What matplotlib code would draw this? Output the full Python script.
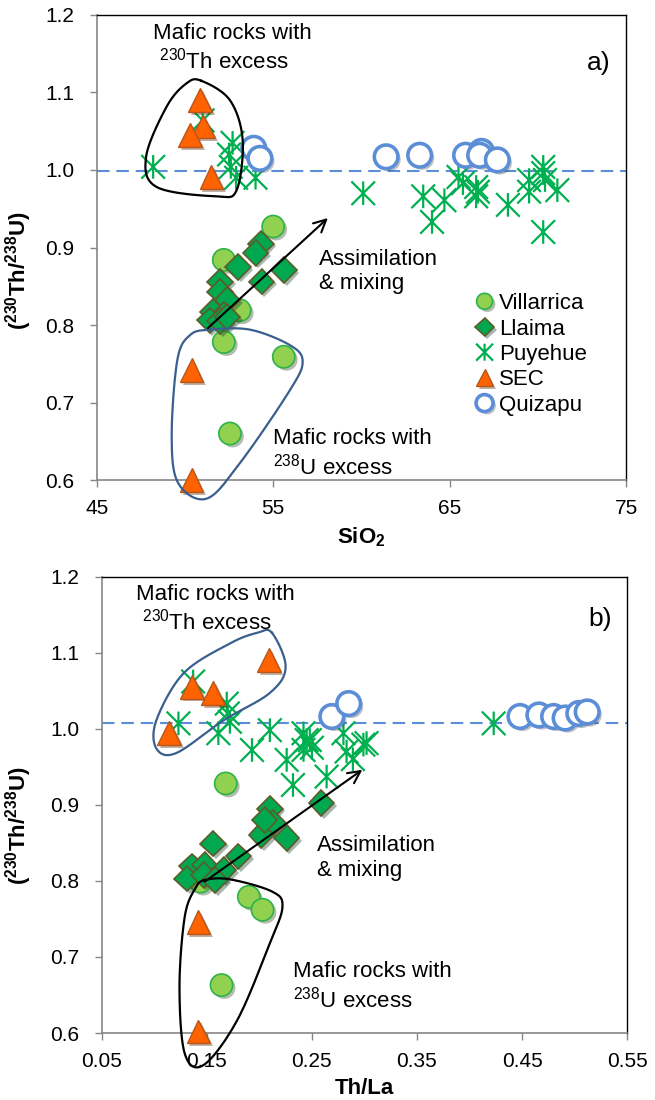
import numpy as np
import matplotlib
matplotlib.use('Agg')
import matplotlib.pyplot as plt
import matplotlib.patheffects as pe
from matplotlib.path import Path

plt.rcParams['font.family'] = ['Liberation Sans', 'DejaVu Sans']
plt.rcParams['mathtext.fontset'] = 'custom'
plt.rcParams['mathtext.rm'] = 'Liberation Sans'
plt.rcParams['mathtext.it'] = 'Liberation Sans:italic'
plt.rcParams['mathtext.bf'] = 'Liberation Sans:bold'

# ---------------------------------------------------------------- panel a data
vil_a_x = [55.0, 52.2, 53.1, 52.2, 55.6, 52.55]
vil_a_y = [0.927, 0.884, 0.819, 0.778, 0.759, 0.660]

lla_a_x = [54.3, 54.0, 53.0, 55.6, 52.0, 54.35, 52.0, 52.4, 51.6, 52.2, 51.4, 52.0, 52.4]
lla_a_y = [0.905, 0.893, 0.875, 0.871, 0.856, 0.856, 0.843, 0.832, 0.817, 0.813, 0.806, 0.805, 0.810]

puy_a_x = [48.2, 51.0, 52.7, 52.5, 52.6, 52.9, 54.0, 60.1, 63.5, 64.0, 64.7, 65.5,
           65.75, 66.5, 66.5, 66.6, 68.3, 69.5, 69.5, 70.3, 70.3, 70.4, 71.1, 70.3]
puy_a_y = [1.004, 1.064, 1.035, 1.020, 1.004, 0.990, 0.990, 0.970, 0.966, 0.933, 0.961, 0.991,
           0.983, 0.978, 0.966, 0.972, 0.955, 0.987, 0.972, 1.004, 0.996, 0.987, 0.974, 0.920]

sec_a_x = [50.85, 51.04, 50.29, 51.5, 50.38, 50.38]
sec_a_y = [1.090, 1.056, 1.045, 0.991, 0.742, 0.600]

qzp_a_x = [53.9, 54.25, 61.4, 63.3, 65.9, 66.8, 66.7, 67.7]
qzp_a_y = [1.028, 1.015, 1.017, 1.019, 1.019, 1.024, 1.019, 1.013]

# enclosures (data units)
th_a_x = [50.94, 52.55, 53.27, 52.93, 51.8, 48.4, 47.8, 48.97, 50.1]
th_a_y = [1.115, 1.090, 1.039, 0.974, 0.966, 0.978, 1.017, 1.082, 1.112]
u_a_x = [51.42, 53.69, 55.95, 56.67, 55.95, 53.12, 51.23, 49.62, 49.25, 49.57, 50.29]
u_a_y = [0.794, 0.794, 0.774, 0.753, 0.716, 0.622, 0.576, 0.596, 0.656, 0.755, 0.787]
arrow_a = [(51.3, 0.796), (58.1, 0.938)]

# ---------------------------------------------------------------- panel b data
vil_b_x = [0.168, 0.190, 0.203, 0.164, 0.144]
vil_b_y = [0.928, 0.779, 0.762, 0.663, 0.799]

lla_b_x = [0.210, 0.259, 0.213, 0.202, 0.226, 0.156, 0.180, 0.136, 0.148, 0.166,
           0.131, 0.147, 0.158, 0.205]
lla_b_y = [0.895, 0.902, 0.876, 0.860, 0.856, 0.849, 0.832, 0.819, 0.821, 0.814,
           0.803, 0.808, 0.801, 0.880]

puy_b_x = [0.137, 0.123, 0.169, 0.172, 0.161, 0.193, 0.210, 0.226, 0.232, 0.242,
           0.245, 0.242, 0.248, 0.250, 0.264, 0.280, 0.283, 0.299, 0.289, 0.302,
           0.423, 0.170]
puy_b_y = [1.062, 1.007, 1.033, 1.009, 0.994, 0.972, 0.998, 0.959, 0.926, 0.994,
           0.985, 0.972, 0.985, 0.975, 0.937, 0.994, 0.970, 0.979, 0.960, 0.981,
           1.007, 1.020]

sec_b_x = [0.209, 0.136, 0.156, 0.114, 0.142, 0.142]
sec_b_y = [1.090, 1.055, 1.047, 0.994, 0.746, 0.602]

qzp_b_x = [0.269, 0.285, 0.448, 0.466, 0.480, 0.491, 0.504, 0.512]
qzp_b_y = [1.016, 1.033, 1.016, 1.018, 1.016, 1.014, 1.020, 1.022]

th_b_x = [0.212, 0.225, 0.210, 0.166, 0.121, 0.102, 0.102, 0.128, 0.172, 0.198]
th_b_y = [1.126, 1.081, 1.047, 1.011, 0.968, 0.974, 1.011, 1.073, 1.112, 1.126]
u_b_x = [0.148, 0.172, 0.212, 0.222, 0.210, 0.179, 0.147, 0.129, 0.124, 0.129, 0.139]
u_b_y = [0.801, 0.802, 0.786, 0.766, 0.718, 0.617, 0.558, 0.573, 0.661, 0.753, 0.790]
arrow_b = [(0.148, 0.799), (0.298, 0.946)]

# ---------------------------------------------------------------- styles
GRAY = '#868686'
STAR = Path([(0, -1), (0, 1), (-1, -1), (1, 1), (-1, 1), (1, -1)],
            [Path.MOVETO, Path.LINETO] * 3)
SHADOW = [pe.SimplePatchShadow(offset=(2, -2), alpha=0.35), pe.Normal()]

SERIES = [
    ('Villarrica', dict(marker='o', ms=16, mfc='#92D050', mec='#2DB34A', mew=1.2)),
    ('Llaima', dict(marker='D', ms=13, mfc='#00A84F', mec='#5E5A2A', mew=1.2)),
    ('Puyehue', dict(marker=STAR, ms=17, mfc='none', mec='#00B050', mew=1.6)),
    ('SEC', dict(marker='^', ms=17, mfc='#FF6200', mec='#B8561A', mew=1.0)),
    ('Quizapu', dict(marker='o', ms=17, mfc='white', mec='#5B8ED6', mew=2.6)),
]


def closed_spline(xs, ys, n=25):
    pts = np.column_stack([xs, ys])
    m = len(pts)
    out = []
    for i in range(m):
        p0, p1, p2, p3 = pts[i - 1], pts[i], pts[(i + 1) % m], pts[(i + 2) % m]
        for t in np.linspace(0, 1, n, endpoint=False):
            t2, t3 = t * t, t * t * t
            out.append(0.5 * ((2 * p1) + (-p0 + p2) * t + (2 * p0 - 5 * p1 + 4 * p2 - p3) * t2
                              + (-p0 + 3 * p1 - 3 * p2 + p3) * t3))
    out.append(out[0])
    out = np.array(out)
    return out[:, 0], out[:, 1]


def draw_panel(ax, data, xlim, xticks, xfmt, xlabel, ref_y, th_shape, u_shape, arrow,
               th_col, u_col, texts, tag, tag_y, legend):
    ax.axhline(ref_y, color='#5B8ED6', lw=1.5, ls=(0, (6, 3.3)), zorder=1)

    for (name, st), (xs, ys) in zip(SERIES, data):
        ax.plot(xs, ys, ls='none', label=name, zorder=3, clip_on=False,
                path_effects=SHADOW, **st)

    for (sx, sy), col in ((th_shape, th_col), (u_shape, u_col)):
        cx, cy = closed_spline(sx, sy)
        ax.plot(cx, cy, color=col, lw=1.6, zorder=4, clip_on=False)

    ax.annotate('', xy=arrow[1], xytext=arrow[0],
                arrowprops=dict(arrowstyle='->', lw=1.5, color='black',
                                mutation_scale=22, shrinkA=0, shrinkB=0), zorder=5)

    for (tx, ty, s) in texts:
        ax.text(tx, ty, s, fontsize=16, ha='left', va='center', linespacing=1.2, zorder=6)
    ax.text(0.97, tag_y, tag, transform=ax.transAxes, fontsize=19, ha='right', va='center')

    ax.set_xlim(*xlim)
    ax.set_ylim(0.6, 1.2)
    ax.set_xticks(xticks)
    ax.set_xticklabels([xfmt.format(v) for v in xticks])
    ax.set_yticks([0.6, 0.7, 0.8, 0.9, 1.0, 1.1, 1.2])
    ax.set_yticklabels(['{:.1f}'.format(v) for v in [0.6, 0.7, 0.8, 0.9, 1.0, 1.1, 1.2]])
    ax.tick_params(axis='both', labelsize=15, color=GRAY, length=5, width=1, direction='out')
    ax.tick_params(axis='y', pad=11)
    ax.tick_params(axis='x', pad=9)
    for sp in ('left', 'bottom'):
        ax.spines[sp].set_color(GRAY)
        ax.spines[sp].set_linewidth(1.2)
    for sp in ('top', 'right'):
        ax.spines[sp].set_color('black')
        ax.spines[sp].set_linewidth(1.0)

    ax.set_xlabel(xlabel, fontsize=16, fontweight='bold', labelpad=5)
    ax.set_ylabel(r'$\mathbf{(^{230}Th/^{238}U)}$', fontsize=16)

    if legend:
        ax.legend(loc='upper left', bbox_to_anchor=(0.72, 0.402), frameon=False,
                  fontsize=16, markerscale=0.72, handlelength=0.6, handletextpad=0.35,
                  labelspacing=0.2, borderpad=0, borderaxespad=0)


fig = plt.figure(figsize=(6.55, 11), dpi=100)
ax1 = fig.add_axes([0.1476, 0.5636, 0.956 - 0.1476, 0.9864 - 0.5636])
ax2 = fig.add_axes([0.1553, 0.0609, 0.9575 - 0.1553, 0.4759 - 0.0609])

data_a = [(vil_a_x, vil_a_y), (lla_a_x, lla_a_y), (puy_a_x, puy_a_y),
          (sec_a_x, sec_a_y), (qzp_a_x, qzp_a_y)]
data_b = [(vil_b_x, vil_b_y), (lla_b_x, lla_b_y), (puy_b_x, puy_b_y),
          (sec_b_x, sec_b_y), (qzp_b_x, qzp_b_y)]

draw_panel(ax1, data_a, (45, 75), [45, 55, 65, 75], '{:g}', r'SiO$_\mathbf{2}$', 0.999,
           (th_a_x, th_a_y), (u_a_x, u_a_y), arrow_a, 'black', '#3A5F8F',
           [(48.2, 1.157, 'Mafic rocks with\n $^{230}$Th excess'),
            (57.6, 0.869, 'Assimilation\n& mixing'),
            (55.0, 0.634, 'Mafic rocks with\n$^{238}$U excess')],
           'a)', 0.897, True)

draw_panel(ax2, data_b, (0.05, 0.55), [0.05, 0.15, 0.25, 0.35, 0.45, 0.55], '{:.2f}', 'Th/La',
           1.007, (th_b_x, th_b_y), (u_b_x, u_b_y), arrow_b, '#3A5F8F', 'black',
           [(0.083, 1.157, 'Mafic rocks with\n $^{230}$Th excess'),
            (0.255, 0.830, 'Assimilation\n& mixing'),
            (0.232, 0.661, 'Mafic rocks with\n$^{238}$U excess')],
           'b)', 0.908, False)

ax1.yaxis.set_label_coords(-0.118, 0.45)
ax2.yaxis.set_label_coords(-0.128, 0.455)

fig.savefig('out.png', dpi=100)
